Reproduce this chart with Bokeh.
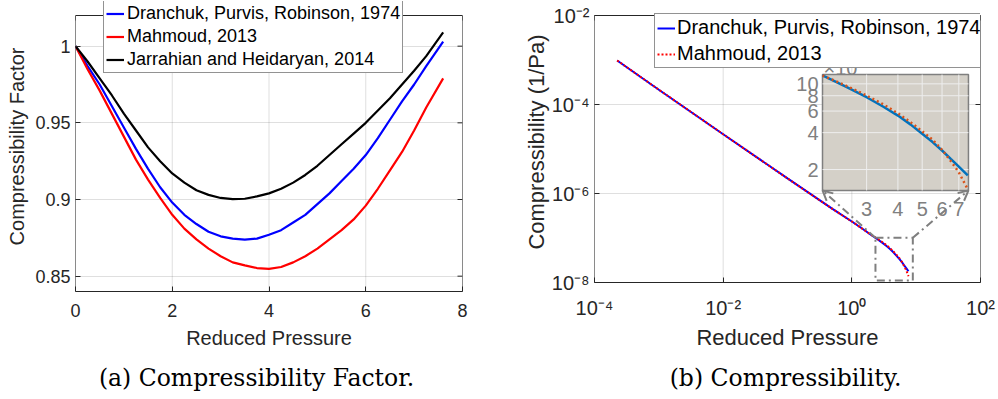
import numpy as np
from bokeh.plotting import figure
from bokeh.layouts import row, column
from bokeh.models import (Range1d, LogScale, Legend, LegendItem, Label, Arrow, OpenHead,
                          FixedTicker, CustomJSTickFormatter)
from bokeh.embed import file_html
from bokeh.resources import INLINE
from bokeh.core.properties import value

# ---------------- data: (a) compressibility factor ----------------
pr_a = [0, 0.25, 0.5, 0.75, 1.0, 1.25, 1.5, 1.75, 2.0, 2.25, 2.5, 2.75, 3.0, 3.25, 3.5, 3.75,
        4.0, 4.25, 4.5, 4.75, 5.0, 5.25, 5.5, 5.75, 6.0, 6.25, 6.5, 6.75, 7.0, 7.25, 7.6]
z_dpr = [1.000, 0.987, 0.975, 0.961, 0.947, 0.933, 0.920, 0.908, 0.898, 0.890, 0.884, 0.879, 0.876,
         0.8745, 0.8738, 0.8745, 0.877, 0.880, 0.885, 0.890, 0.897, 0.904, 0.912, 0.920, 0.929,
         0.940, 0.952, 0.964, 0.975, 0.987, 1.003]
z_mah = [1.000, 0.985, 0.971, 0.956, 0.941, 0.926, 0.913, 0.901, 0.890, 0.881, 0.874, 0.868, 0.863,
         0.859, 0.857, 0.8553, 0.8548, 0.856, 0.859, 0.863, 0.868, 0.874, 0.880, 0.887, 0.896,
         0.907, 0.919, 0.931, 0.945, 0.960, 0.979]
z_jh = [1.000, 0.990, 0.979, 0.968, 0.956, 0.945, 0.934, 0.925, 0.917, 0.911, 0.906, 0.903, 0.901,
        0.9003, 0.9005, 0.902, 0.904, 0.907, 0.911, 0.916, 0.922, 0.929, 0.936, 0.943, 0.950,
        0.958, 0.966, 0.975, 0.984, 0.9935, 1.009]
xlim_a = [0, 8]
ylim_a = [0.84, 1.02]
xticks_a = [0, 2, 4, 6, 8]
yticks_a = [0.85, 0.9, 0.95, 1.0]

# ---------------- data: (b) compressibility ----------------
pr_b = [2.25e-4, 1e-3, 1e-2, 1e-1, 0.5, 1, 1.5, 2, 2.5, 3, 3.5, 4, 4.5, 5, 5.5, 6, 6.5, 7, 7.6]
c_dpr = [9.75e-4, 2.15e-4, 2.15e-5, 2.18e-6, 4.5e-7, 2.35e-7, 1.57e-7, 1.17e-7, 9.4e-8, 7.78e-8,
         6.5e-8, 5.51e-8, 4.65e-8, 3.91e-8, 3.35e-8, 2.86e-8, 2.44e-8, 2.11e-8, 1.79e-8]
c_mah = [9.75e-4, 2.15e-4, 2.15e-5, 2.18e-6, 4.5e-7, 2.35e-7, 1.57e-7, 1.17e-7, 9.6e-8, 8.03e-8,
         6.8e-8, 5.75e-8, 4.85e-8, 4.10e-8, 3.5e-8, 2.90e-8, 2.35e-8, 1.90e-8, 1.38e-8]
xlim_b = [1e-4, 1e2]
ylim_b = [1e-8, 1e-2]
xticks_b = [1e-4, 1e-2, 1e0, 1e2]
yticks_b = [1e-8, 1e-6, 1e-4, 1e-2]

# zoom box (main coords), inset placement (main coords) and inset ranges
zoom_box_x = [2.33, 8.87]
zoom_box_y = [1.11e-8, 1.01e-7]
inset_at_x = [0.35, 65.0]
inset_at_y = [1.17e-6, 4.7e-4]
inset_xr = [2.0, 7.65]
inset_yr = [1.35e-8, 1.19e-7]
inset_xticks = [3, 4, 5, 6, 7]
inset_xlabels = ["3", "4", "5", "6", "7"]
inset_yticks = [2e-8, 4e-8, 6e-8, 8e-8, 10e-8]
inset_ylabels = ["2", "4", "6", "8", "10"]

labels = ["Dranchuk, Purvis, Robinson, 1974", "Mahmoud, 2013", "Jarrahian and Heidaryan, 2014"]
captions = ["(a) Compressibility Factor.", "(b) Compressibility."]

AX = "#262626"
GR = "#7f7f7f"
FONT = "Liberation Sans"
CAPFONT = "DejaVu Serif"
TOP_PAD = 14   # px of free frame above the axes box (so the legend is not clipped)
B = 72         # bottom border shared by both plots
H1, H2 = 363, 354
HC = 399 - H1  # caption strip height


def style(p, tick_fs, label_fs):
    for ax in p.axis:
        ax.major_tick_in = 5
        ax.major_tick_out = 0
        ax.minor_tick_in = 0
        ax.minor_tick_out = 0
        ax.axis_line_color = AX
        ax.major_tick_line_color = AX
        ax.major_label_text_font = FONT
        ax.major_label_text_font_size = tick_fs
        ax.major_label_text_color = AX
        ax.axis_label_text_font = FONT
        ax.axis_label_text_font_size = label_fs
        ax.axis_label_text_font_style = "normal"
        ax.axis_label_text_color = AX
    p.yaxis.axis_line_color = None
    p.ygrid.grid_line_color = AX
    p.ygrid.grid_line_alpha = 0.15
    p.xgrid.visible = False
    p.outline_line_color = None


def box(p, xlim, ylim, xt, yt):
    # vertical grid lines limited to the axes box, the box itself and its top/right ticks
    p.segment(x0=xt, y0=[ylim[0]] * len(xt), x1=xt, y1=[ylim[1]] * len(xt),
              line_color=AX, line_alpha=0.15, line_width=1, level="underlay")
    p.quad(left=[xlim[0]], right=[xlim[1]], bottom=[ylim[0]], top=[ylim[1]],
           fill_alpha=0, line_color=AX, line_width=1)
    p.ray(x=xt, y=[ylim[1]] * len(xt), length=5, length_units="screen", angle=-np.pi / 2,
          line_color=AX, line_width=1)
    p.ray(x=[xlim[1]] * len(yt), y=yt, length=5, length_units="screen", angle=np.pi,
          line_color=AX, line_width=1)


# ---------------- figure (a) ----------------
fh1 = H1 - B - 1
top_a = ylim_a[0] + (ylim_a[1] - ylim_a[0]) * fh1 / (fh1 - TOP_PAD)
p1 = figure(width=499, height=H1, x_range=Range1d(*xlim_a), y_range=Range1d(ylim_a[0], top_a),
            output_backend="svg", toolbar_location=None,
            min_border_left=75, min_border_right=37, min_border_top=1, min_border_bottom=B)
p1.xaxis.ticker = FixedTicker(ticks=xticks_a)
p1.yaxis.ticker = FixedTicker(ticks=yticks_a)
p1.ygrid.ticker = FixedTicker(ticks=yticks_a)
fmt = CustomJSTickFormatter(code="return String(Number(tick.toFixed(2)));")
p1.xaxis.formatter = fmt
p1.yaxis.formatter = fmt
p1.xaxis.axis_label = "Reduced Pressure"
p1.yaxis.axis_label = "Compressibility Factor"
style(p1, "18px", "20px")
p1.xaxis.major_label_standoff = 12
p1.xaxis.axis_label_standoff = 7
p1.yaxis.major_label_standoff = 5
p1.yaxis.axis_label_standoff = 4

r_a1 = p1.line(pr_a, z_dpr, line_color="#0000ff", line_width=2.2)
r_a2 = p1.line(pr_a, z_mah, line_color="#ff0000", line_width=2.2)
r_a3 = p1.line(pr_a, z_jh, line_color="#000000", line_width=2.2)
box(p1, xlim_a, ylim_a, xticks_a, yticks_a)

leg1 = Legend(items=[LegendItem(label=labels[0], renderers=[r_a1]),
                     LegendItem(label=labels[1], renderers=[r_a2]),
                     LegendItem(label=labels[2], renderers=[r_a3])],
              location=(28, 218), padding=2, spacing=2, margin=0,
              glyph_width=18, glyph_height=21, label_height=21, label_standoff=3,
              label_text_font=FONT, label_text_font_size="18px", label_text_color="#000000",
              border_line_color=AX, border_line_width=1, background_fill_alpha=1.0)
p1.add_layout(leg1)

# ---------------- figure (b) ----------------
fh2 = H2 - B - 1
ly0, ly1 = np.log10(ylim_b)
top_b = float(10 ** (ly0 + (ly1 - ly0) * fh2 / (fh2 - TOP_PAD)))
p2 = figure(width=499, height=H2, x_range=Range1d(*xlim_b), y_range=Range1d(ylim_b[0], top_b),
            x_axis_type="log", y_axis_type="log",
            output_backend="svg", toolbar_location=None,
            min_border_left=95, min_border_right=18, min_border_top=1, min_border_bottom=B)
p2.xaxis.ticker = FixedTicker(ticks=xticks_b)
p2.yaxis.ticker = FixedTicker(ticks=yticks_b)
p2.ygrid.ticker = FixedTicker(ticks=yticks_b)
logfmt = CustomJSTickFormatter(code="""
const e = Math.round(Math.log10(tick));
const sup = {'-':'\u207b','0':'\u2070','1':'\u00b9','2':'\u00b2','3':'\u00b3','4':'\u2074',
             '5':'\u2075','6':'\u2076','7':'\u2077','8':'\u2078','9':'\u2079'};
return '10' + String(e).split('').map(c => sup[c]).join('');
""")
p2.xaxis.formatter = logfmt
p2.yaxis.formatter = logfmt
p2.xaxis.axis_label = "Reduced Pressure"
p2.yaxis.axis_label = "Compressibility (1/Pa)"
style(p2, "20px", "22px")
p2.xaxis.major_label_standoff = 14
p2.xaxis.axis_label_standoff = 3
p2.yaxis.major_label_standoff = 5
p2.yaxis.axis_label_standoff = 0


def extra_range(frame, at, rng):
    f0, f1 = np.log10(frame)
    a0, a1 = np.log10(at)
    r0, r1 = np.log10(rng)
    k = (a1 - a0) / (r1 - r0)
    return Range1d(float(10 ** (r0 + (f0 - a0) / k)), float(10 ** (r0 + (f1 - a0) / k)))


p2.extra_x_ranges = {"ins": extra_range(xlim_b, inset_at_x, inset_xr)}
p2.extra_y_ranges = {"ins": extra_range([ylim_b[0], top_b], inset_at_y, inset_yr)}
p2.extra_x_scales = {"ins": LogScale()}
p2.extra_y_scales = {"ins": LogScale()}

r_b1 = p2.line(pr_b, c_dpr, line_color="#0000ff", line_width=2)
r_b2 = p2.line(pr_b, c_mah, line_color="#ff0000", line_width=2, line_dash="2 2")
box(p2, xlim_b, ylim_b, xticks_b, yticks_b)

p2.quad(left=[zoom_box_x[0]], right=[zoom_box_x[1]], bottom=[zoom_box_y[0]], top=[zoom_box_y[1]],
        fill_alpha=0, line_color=GR, line_width=2, line_dash="8 4 2 4")
p2.add_layout(Arrow(x_start=zoom_box_x[0], y_start=zoom_box_y[1], x_end=inset_at_x[0], y_end=inset_at_y[0],
                    line_color=GR, line_width=2, line_dash="8 4 2 4",
                    end=OpenHead(size=10, line_color=GR, line_width=2)))
p2.add_layout(Arrow(x_start=zoom_box_x[1], y_start=zoom_box_y[1], x_end=inset_at_x[1], y_end=inset_at_y[0],
                    line_color=GR, line_width=2, line_dash="8 4 2 4",
                    end=OpenHead(size=10, line_color=GR, line_width=2)))

# inset
kw = dict(x_range_name="ins", y_range_name="ins")
p2.quad(left=[inset_xr[0]], right=[inset_xr[1]], bottom=[inset_yr[0]], top=[inset_yr[1]],
        fill_color="#d4d0c8", line_color=GR, line_width=1.5, **kw)
p2.segment(x0=inset_xticks, y0=[inset_yr[0]] * len(inset_xticks), x1=inset_xticks,
           y1=[inset_yr[1]] * len(inset_xticks), line_color="#eeeeee", line_width=1, **kw)
p2.segment(x0=[inset_xr[0]] * len(inset_yticks), y0=inset_yticks, x1=[inset_xr[1]] * len(inset_yticks),
           y1=inset_yticks, line_color="#eeeeee", line_width=1, **kw)
ins_x = [x for x in pr_b if x >= inset_xr[0]]
ins_c1 = [c for x, c in zip(pr_b, c_dpr) if x >= inset_xr[0]]
ins_c2 = [c for x, c in zip(pr_b, c_mah) if x >= inset_xr[0]]
p2.line(ins_x, ins_c1, line_color="#0072bd", line_width=2.5, **kw)
p2.line(ins_x, ins_c2, line_color="#d95319", line_width=2.5, line_dash="2 3", **kw)
p2.text(x=inset_xticks, y=[inset_yr[0]] * len(inset_xticks), text=inset_xlabels,
        text_align="center", text_baseline="top", y_offset=12,
        text_font=value(FONT), text_font_size="20px", text_color="#808080", **kw)
p2.text(x=[inset_xr[0]] * len(inset_yticks), y=inset_yticks, text=inset_ylabels,
        text_align="right", text_baseline="middle", x_offset=-4,
        text_font=value(FONT), text_font_size="20px", text_color="#808080", **kw)

leg2 = Legend(items=[LegendItem(label=labels[0], renderers=[r_b1]),
                     LegendItem(label=labels[1], renderers=[r_b2])],
              location=(60, 214), padding=2, spacing=3, margin=0,
              glyph_width=18, glyph_height=22, label_height=22, label_standoff=2,
              label_text_font=FONT, label_text_font_size="20px", label_text_color="#000000",
              border_line_color=AX, border_line_width=1, background_fill_alpha=1.0)
p2.add_layout(leg2)
# inset exponent, drawn over the legend
p2.add_layout(Label(x=inset_xr[0], y=inset_yr[1], text="\u00d710", x_offset=1, y_offset=7,
                    text_baseline="alphabetic", text_align="left", text_font=FONT,
                    text_font_size="20px", text_color="#808080", **kw))
p2.add_layout(Label(x=inset_xr[0], y=inset_yr[1], text="-8", x_offset=36, y_offset=13,
                    text_baseline="alphabetic", text_align="left", text_font=FONT,
                    text_font_size="14px", text_color="#808080", **kw))


# ---------------- caption strips ----------------
def caption(text, border_left, border_right, xpos):
    c = figure(width=499, height=HC, x_range=Range1d(0, 1), y_range=Range1d(0, 1),
               output_backend="svg", toolbar_location=None, x_axis_location=None,
               y_axis_location=None, min_border_left=border_left, min_border_right=border_right,
               min_border_top=0, min_border_bottom=0)
    c.grid.visible = False
    c.outline_line_color = None
    c.text(x=[xpos], y=[0.6], text=[text], text_align="center", text_baseline="middle",
           text_font=value(CAPFONT), text_font_size="23.5px", text_color="#000000")
    return c


c1 = caption(captions[0], 75, 37, 0.468)
c2 = caption(captions[1], 95, 18, 0.495)

layout = column(row(p1, p2), row(c1, c2))
open("out.html", "w").write(file_html(layout, INLINE))
